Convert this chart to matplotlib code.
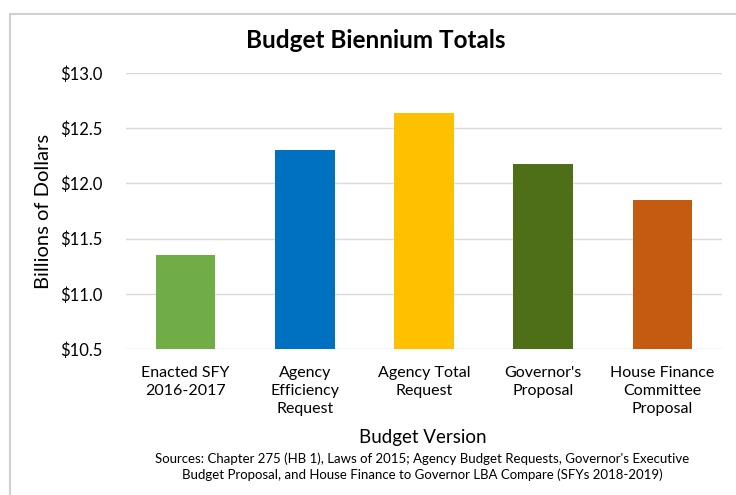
import matplotlib.pyplot as plt
import numpy as np

# data
categories = ["Enacted SFY\n2016-2017", "Agency\nEfficiency\nRequest", "Agency Total\nRequest",
              "Governor's\nProposal", "House Finance\nCommittee\nProposal"]
values = [11.35, 12.30, 12.64, 12.18, 11.85]
colours = ["#70AD47", "#0070C0", "#FFC000", "#4E6E18", "#C55A11"]
yticks = [10.5, 11.0, 11.5, 12.0, 12.5, 13.0]

plt.rcParams['font.family'] = ['Lato', 'DejaVu Sans']

fig = plt.figure(figsize=(7.36, 4.95), dpi=100)
ax = fig.add_axes([0.171, 0.295, 0.81, 0.5575])

x = np.arange(len(categories))
ax.bar(x, values, width=0.5, color=colours, zorder=3)

ax.set_ylim(10.5, 13.0)
ax.set_xlim(-0.5, len(categories) - 0.5)
ax.set_yticks(yticks)
ax.set_yticklabels([f"${v:.1f}" for v in yticks], fontsize=12)
ax.set_xticks(x)
ax.set_xticklabels(categories, fontsize=11.5, linespacing=1.4, va='top')
ax.tick_params(axis='y', length=0, pad=17)
ax.tick_params(axis='x', length=0, pad=12)
ax.grid(axis='y', color='#D9D9D9', linewidth=1, zorder=0)
for s in ax.spines.values():
    s.set_visible(False)

ax.set_ylabel("Billions of Dollars", fontsize=14.5, labelpad=6)
fig.text(0.51, 0.918, "Budget Biennium Totals", ha='center', va='center',
         fontsize=17.5, fontweight='bold')
fig.text(0.574, 0.116, "Budget Version", ha='center', va='center', fontsize=13.5)
fig.text(0.574, 0.057, "Sources: Chapter 275 (HB 1), Laws of 2015; Agency Budget Requests, Governor's Executive\n"
         "Budget Proposal, and House Finance to Governor LBA Compare (SFYs 2018-2019)",
         ha='center', va='center', fontsize=9.5, linespacing=1.25)

# light frame around the chart
frame = plt.Rectangle((10 / 736, -0.1), 1.2, 1 - 14 / 495 + 0.1, transform=fig.transFigure,
                      fill=False, edgecolor='#D0D0D0', linewidth=1.5)
fig.patches.append(frame)

fig.savefig("out.png", dpi=100)
